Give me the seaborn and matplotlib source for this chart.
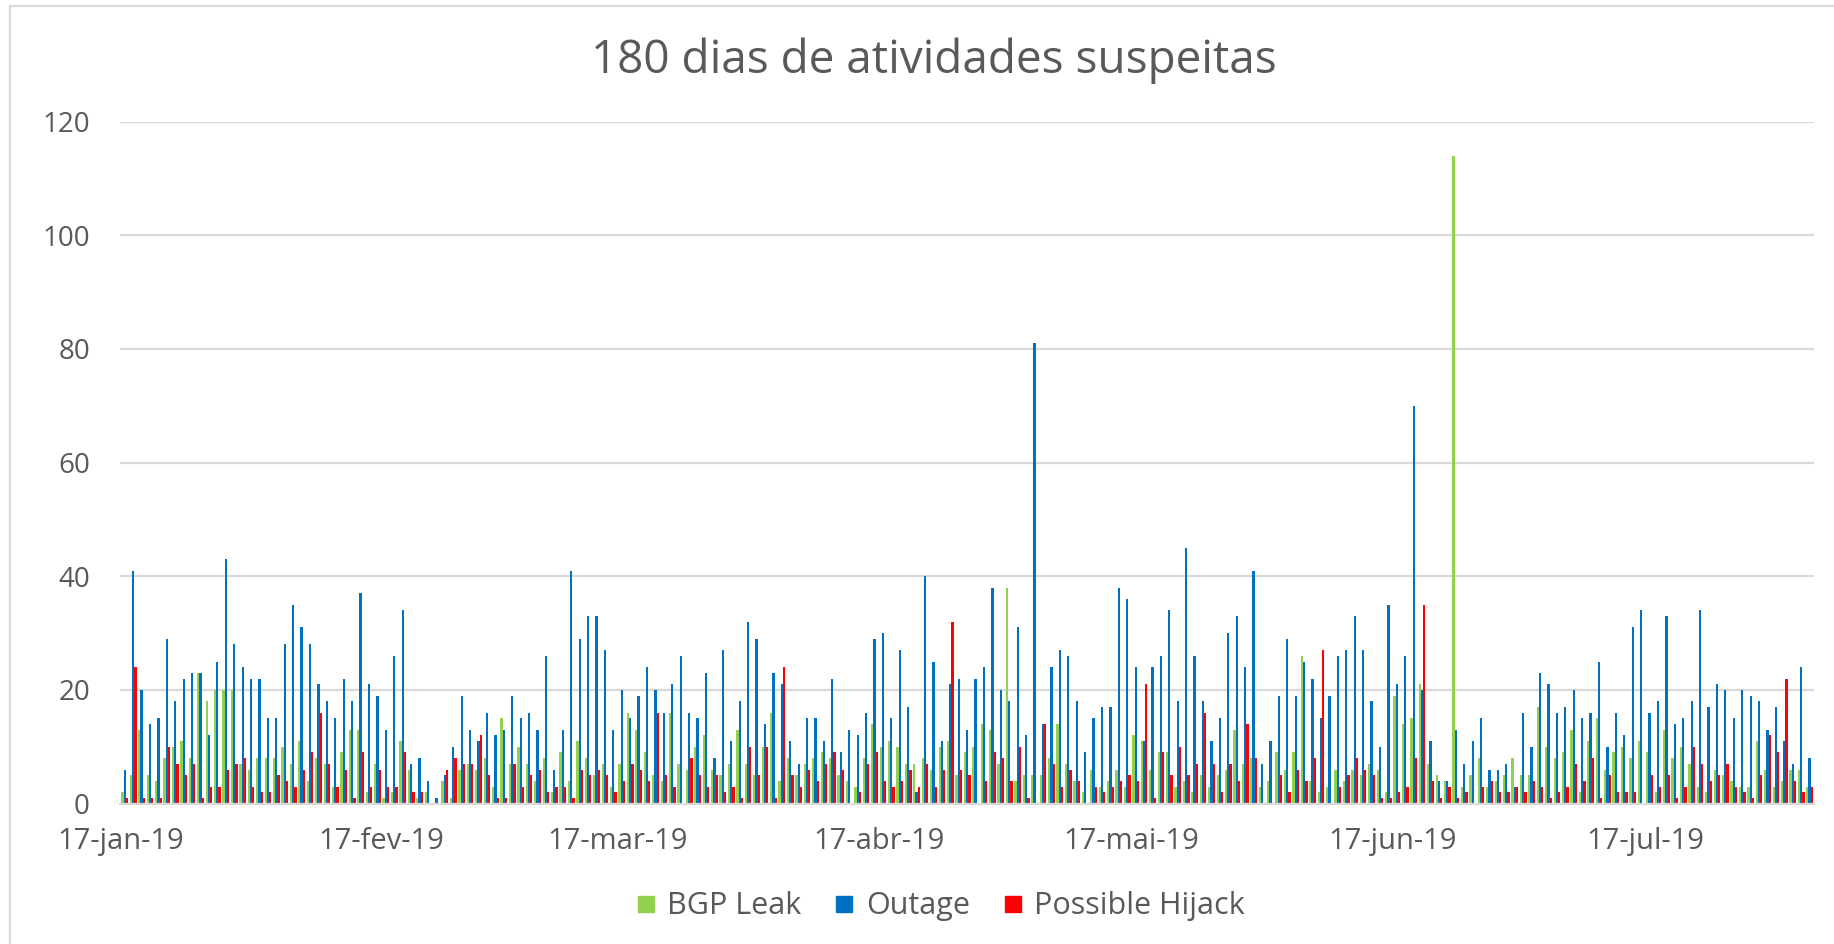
import numpy as np
import pandas as pd
import matplotlib
matplotlib.use("Agg")
import matplotlib.pyplot as plt
import seaborn as sns
from matplotlib.lines import Line2D

# one value per day, 17-jan-19 .. 05-ago-19
start_date = "2019-01-17"
bgp_leak = [2, 5, 13, 5, 4, 8, 10, 11, 8, 23, 18, 20, 20, 20, 7, 6, 8, 8, 8, 10,
            7, 11, 4, 8, 7, 3, 9, 13, 13, 2, 7, 1, 2, 11, 6, 1, 2, 0, 4, 1,
            6, 7, 6, 8, 3, 15, 7, 10, 7, 4, 8, 2, 9, 4, 11, 8, 5, 7, 3, 7,
            16, 13, 9, 5, 4, 16, 7, 6, 10, 12, 6, 5, 7, 13, 7, 5, 10, 16, 4, 8,
            5, 7, 8, 9, 8, 5, 4, 3, 8, 14, 10, 11, 10, 7, 7, 8, 6, 10, 11, 5,
            9, 10, 14, 13, 7, 38, 4, 5, 5, 5, 8, 14, 7, 4, 2, 6, 3, 4, 6, 3,
            12, 11, 6, 9, 9, 3, 4, 2, 5, 3, 5, 6, 13, 7, 8, 3, 4, 9, 6, 9,
            26, 4, 2, 3, 6, 4, 6, 5, 7, 6, 2, 19, 14, 15, 21, 7, 5, 4, 114, 3,
            5, 8, 3, 4, 5, 8, 5, 5, 17, 10, 8, 9, 13, 2, 11, 15, 6, 9, 10, 8,
            11, 9, 2, 13, 8, 10, 7, 3, 2, 6, 5, 4, 3, 3, 11, 6, 3, 4, 6, 6, 3]
outage = [6, 41, 20, 14, 15, 29, 18, 22, 23, 23, 12, 25, 43, 28, 24, 22, 22, 15, 15, 28,
          35, 31, 28, 21, 18, 15, 22, 18, 37, 21, 19, 13, 26, 34, 7, 8, 4, 1, 5, 10,
          19, 13, 11, 16, 12, 13, 19, 15, 16, 13, 26, 6, 13, 41, 29, 33, 33, 27, 13, 20,
          15, 19, 24, 20, 16, 21, 26, 16, 15, 23, 8, 27, 11, 18, 32, 29, 14, 23, 21, 11,
          7, 15, 15, 11, 22, 9, 13, 12, 16, 29, 30, 15, 27, 17, 2, 40, 25, 11, 21, 22,
          13, 22, 24, 38, 20, 18, 31, 12, 81, 14, 24, 27, 26, 18, 9, 15, 17, 17, 38, 36,
          24, 11, 24, 26, 34, 18, 45, 26, 18, 11, 15, 30, 33, 24, 41, 7, 11, 19, 29, 19,
          25, 22, 15, 19, 26, 27, 33, 27, 18, 10, 35, 21, 26, 70, 20, 11, 4, 4, 13, 7,
          11, 15, 6, 6, 7, 3, 16, 10, 23, 21, 16, 17, 20, 15, 16, 25, 10, 16, 12, 31,
          34, 16, 18, 33, 14, 15, 18, 34, 17, 21, 20, 15, 20, 19, 18, 13, 17, 11, 7, 24, 8]
possible_hijack = [1, 24, 1, 1, 1, 10, 7, 5, 7, 1, 3, 3, 6, 7, 8, 3, 2, 2, 5, 4,
                   3, 6, 9, 16, 7, 3, 6, 1, 9, 3, 6, 3, 3, 9, 2, 2, 0, 0, 6, 8,
                   7, 7, 12, 5, 1, 1, 7, 3, 5, 6, 2, 3, 3, 1, 6, 5, 6, 5, 2, 4,
                   7, 6, 4, 16, 5, 3, 0, 8, 5, 3, 5, 2, 3, 1, 10, 5, 10, 1, 24, 5,
                   3, 6, 4, 7, 9, 6, 0, 2, 7, 9, 4, 3, 4, 6, 3, 7, 3, 6, 32, 6,
                   5, 0, 4, 9, 8, 4, 10, 1, 0, 14, 7, 3, 6, 4, 0, 3, 2, 3, 4, 5,
                   4, 21, 1, 9, 5, 10, 5, 7, 16, 7, 2, 7, 4, 14, 8, 0, 0, 5, 2, 6,
                   4, 8, 27, 0, 3, 5, 8, 6, 5, 1, 1, 2, 3, 8, 35, 4, 1, 3, 1, 2,
                   0, 3, 4, 2, 2, 3, 2, 4, 3, 1, 2, 3, 7, 4, 8, 1, 5, 2, 2, 2,
                   0, 5, 3, 5, 1, 3, 10, 7, 4, 5, 7, 3, 2, 1, 5, 12, 9, 22, 4, 2, 3]

series_names = ["BGP Leak", "Outage", "Possible Hijack"]
series_colors = ["#92D050", "#0070C0", "#FF0000"]
tick_labels = ["17-jan-19", "17-fev-19", "17-mar-19", "17-abr-19",
               "17-mai-19", "17-jun-19", "17-jul-19"]

dates = pd.date_range(start_date, periods=len(outage), freq="D")
n_days = len(dates)

df = pd.DataFrame({"dia": np.arange(n_days), "BGP Leak": bgp_leak,
                   "Outage": outage, "Possible Hijack": possible_hijack})
long_df = df.melt(id_vars="dia", var_name="tipo", value_name="eventos")

sns.set_style("white")
plt.rcParams["font.family"] = ["Open Sans", "DejaVu Sans"]
text_color = "#595959"
grid_color = "#D9D9D9"

fig = plt.figure(figsize=(18.34, 9.44), dpi=100)
ax = fig.add_axes([0.0657, 0.1487, 0.9233, 0.7225])

sns.barplot(data=long_df, x="dia", y="eventos", hue="tipo",
            order=list(range(n_days)), hue_order=series_names,
            palette=series_colors, errorbar=None, saturation=1,
            linewidth=0, width=0.8, ax=ax, legend=False)

ax.set_xlim(-0.5, n_days - 0.5)
ax.set_ylim(0, 120)
ax.set_yticks(range(0, 121, 20))
ax.yaxis.grid(True, color=grid_color, linewidth=1.6)
ax.set_axisbelow(True)

# ticks on the 17th of each month, at the left edge of the day slot
tick_pos = [(d - dates[0]).days - 0.5 for d in dates if d.day == 17]
ax.set_xticks(tick_pos)
ax.set_xticklabels(tick_labels[:len(tick_pos)])
ax.tick_params(axis="x", length=7, width=1.6, color=grid_color, pad=10,
               labelsize=21, labelcolor=text_color)
ax.tick_params(axis="y", length=0, pad=22, labelsize=20, labelcolor=text_color)
ax.set_xlabel("")
ax.set_ylabel("")
for side in ["top", "right", "left"]:
    ax.spines[side].set_visible(False)
ax.spines["bottom"].set_color(grid_color)
ax.spines["bottom"].set_linewidth(1.6)

fig.text(0.509, 0.936, "180 dias de atividades suspeitas", ha="center",
         va="center", fontsize=33, color=text_color)

handles = [Line2D([], [], marker="s", linestyle="", markersize=11,
                  markerfacecolor=c, markeredgecolor=c) for c in series_colors]
fig.legend(handles, series_names, loc="center", bbox_to_anchor=(0.513, 0.040),
           ncol=3, frameon=False, fontsize=22, labelcolor=text_color,
           handlelength=0.6, handletextpad=0.4, columnspacing=1.1)

# chart area border
fig.add_artist(plt.Rectangle((10 / 1834, -0.01), 1.0, 1 - (-0.01) - 6 / 944,
                             transform=fig.transFigure, fill=False,
                             edgecolor=grid_color, linewidth=1.6))

fig.savefig("out.png", dpi=100)
